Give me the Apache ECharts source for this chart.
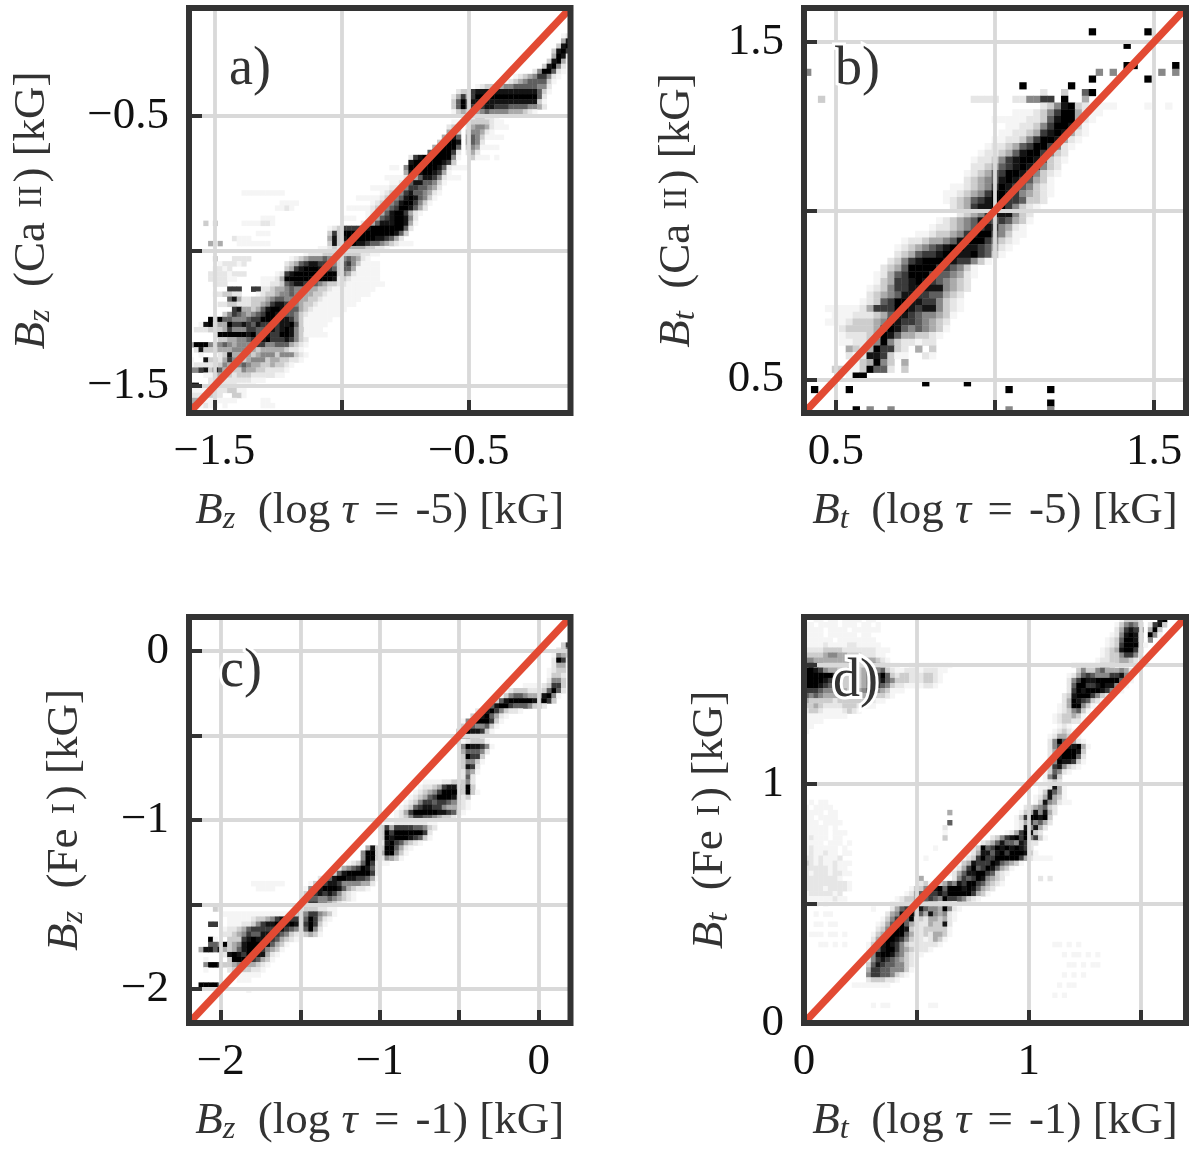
<!DOCTYPE html>
<html><head><meta charset="utf-8">
<style>html,body{margin:0;padding:0;background:#fff}#c{width:1200px;height:1151px}</style>
<script src="https://cdn.jsdelivr.net/npm/echarts@6/dist/echarts.min.js"></script>
</head><body><div id="c"></div>
<script>
// 2D histogram cells: [row from top, first column, shade digits 0-9]
const rowsA=[[23,65,"11"],[25,63,"1110"],[27,62,"111"],[29,61,"1101"],[31,55,"1111"],[33,54,"111"],[31,42,"11"],[33,41,"111"],[35,38,"111"],[37,35,"1111"],[39,33,"11111"],[41,32,"111"],[46,45,"11"],[50,37,"111"],[51,36,"1111"],[52,35,"11111"],[53,35,"11111"],[54,34,"1111111"],[55,32,"1111111"],[56,30,"11111111"],[57,29,"1111111"],[58,28,"1111111"],[59,27,"111111"],[60,26,"111111"],[61,25,"11111"],[62,25,"1111"],[63,24,"1111"],[64,25,"1111"],[5,78,"12"],[6,78,"48"],[7,77,"389"],[8,76,"3897"],[9,76,"4982"],[10,75,"38941"],[11,74,"38952"],[12,72,"2599621"],[13,68,"1234577521"],[14,66,"12345666631"],[15,60,"1233445566666552"],[16,56,"23378888888888888631"],[17,55,"24747999999999999962"],[18,55,"36968888888888888831"],[19,55,"36967778877766665542"],[20,55,"134344565555444321"],[21,58,"1233221"],[22,55,"11233333211"],[23,54,"23202455421"],[24,54,"4430355421"],[25,53,"4786046531"],[26,52,"3699804652"],[27,51,"47999603541"],[28,50,"68999720242"],[29,46,"278999999510031"],[30,46,"8999999873"],[31,45,"5999999862"],[32,45,"4888998741"],[33,44,"1234688752"],[34,42,"112468866531"],[35,41,"122357766542"],[36,40,"1233578665421"],[36,11,"111111111"],[37,39,"1234568986531"],[38,38,"1234568997531"],[38,19,"1111"],[39,38,"234567998642"],[39,18,"1121"],[40,37,"123468997421"],[41,37,"12467899852"],[41,15,"111"],[42,36,"224688899841"],[42,3,"3030"],[42,11,"1111221"],[43,29,"123777788999999962"],[44,29,"37399999999999863"],[44,14,"111"],[45,29,"4838999999887642"],[45,9,"2111"],[46,29,"3836898876654321"],[46,4,"4040"],[46,10,"1111111"],[47,27,"112323444433221"],[48,24,"1222333333332211"],[49,21,"12345556553565421"],[49,5,"3"],[49,9,"2222"],[50,20,"23467887765367531"],[50,6,"122212"],[51,20,"3478999887636641"],[51,5,"2212"],[52,18,"12789999999993542"],[52,4,"22221222"],[53,15,"11124999999999982321"],[53,4,"222211"],[54,15,"1122367887665433221"],[54,5,"222"],[55,15,"22344565554433211"],[55,8,"7770077"],[56,14,"1233455655443321"],[56,5,"223322"],[57,8,"684223334566555443321"],[58,6,"2233222334578876543321"],[59,9,"784434689986664321"],[60,7,"3576545679987665321"],[61,4,"959665556779999887531"],[62,2,"18934497787687777889631"],[63,1,"22233347555776678789853"],[64,6,"9999998966877998531"],[65,6,"3344556778977787532"],[66,0,"4999545654555677556664321"],[67,1,"28333444555443444443221"],[68,2,"10002384444345553555321"],[69,0,"100833247543455534433221"],[70,0,"1222223544565443343321"],[71,0,"557839643335443322221"],[72,3,"11343323332222211"],[73,4,"221222222111"],[74,0,"88002222221111"],[75,0,"111122223311"],[76,0,"222232200331"],[77,0,"4411111111"],[77,15,"11"],[78,0,"53121101"],[78,15,"111"]];
const rowsB=[[3,41,"9"],[3,49,"9"],[5,46,"9"],[8,46,"99"],[8,53,"9"],[9,0,"5"],[9,42,"505"],[9,51,"505"],[10,41,"9"],[10,49,"9"],[11,31,"9"],[11,38,"9"],[12,34,"20030069"],[13,2,"3"],[13,24,"22220022557709004"],[14,34,"23589321111"],[14,49,"1001"],[15,30,"1112357994211"],[16,27,"111112236899421"],[17,29,"112235799831"],[18,28,"1122347898421"],[19,27,"1122357998421"],[20,26,"1223467997521"],[21,25,"1223468997532"],[22,24,"12235789986321"],[23,24,"2234678987532"],[24,23,"12346799875321"],[25,23,"2345689876431"],[26,21,"112345798765321"],[27,20,"1123457998754321"],[28,20,"123467899776332"],[29,21,"2347889975321"],[30,22,"23457888532"],[31,19,"12345687676431"],[32,18,"12234567875421"],[33,16,"1123345789965311"],[34,14,"12234456899975321"],[35,13,"12345678998876421"],[36,13,"2346778998897631"],[37,12,"235789998877531"],[38,11,"23469999776531"],[39,10,"124679997665421"],[40,10,"13477898765432"],[41,9,"123577888885432"],[42,9,"23456887766432"],[43,8,"123679988775321"],[44,3,"11111247779987885321"],[45,4,"111222346887655431"],[46,3,"111233345987765432"],[47,5,"2333347986565431"],[48,5,"122234986443321"],[49,5,"11223595322122"],[50,6,"4324977320403"],[51,6,"2128873110021"],[52,7,"13495304"],[53,4,"3311"],[53,8,"3966203"],[54,6,"199"],[55,17,"9"],[55,23,"9"],[56,1,"9"],[56,6,"9"],[56,29,"9"],[56,35,"9"],[58,35,"9"],[59,7,"9"],[59,9,"5"],[59,12,"5"],[59,29,"5"],[59,35,"5"]];
const rowsC=[[5,78,"37"],[6,77,"235"],[7,76,"1543"],[8,76,"2972"],[9,76,"2441"],[10,75,"1233"],[11,75,"1332"],[12,75,"2553"],[13,70,"111123773"],[14,66,"1233322236962"],[15,65,"1356654458951"],[16,63,"13689999987973"],[17,62,"3689976665332"],[18,60,"2589753221"],[19,59,"36896421"],[20,57,"157999731"],[21,57,"37655631"],[22,56,"37988731"],[23,56,"244332"],[24,56,"3123331"],[25,57,"5988751"],[26,57,"466652"],[27,57,"39773"],[28,57,"35531"],[29,57,"3872"],[30,57,"2541"],[31,57,"262"],[32,49,"11112233352"],[33,48,"122347887393"],[34,47,"12345799993931"],[35,46,"1234679998723"],[36,45,"12357767765521"],[37,44,"123678877544421"],[38,43,"124799999887641"],[39,43,"12357766543321"],[40,40,"111222222211"],[41,40,"374777766532"],[42,40,"39799999972"],[43,40,"39899987631"],[44,40,"289764321"],[45,37,"4833996421"],[46,36,"5993499531"],[47,36,"599325431"],[48,33,"123697211"],[49,31,"245679862"],[50,30,"3689999972"],[51,27,"2368998877641"],[52,25,"13578875555442"],[52,13,"1111111"],[53,24,"15889998643221"],[53,14,"1111"],[54,24,"37787875321"],[55,24,"46655654321"],[56,23,"1477554321"],[57,5,"32"],[57,22,"113332211"],[58,7,"111111111111112345775431"],[59,8,"1111123345788773697421"],[60,4,"77"],[60,8,"111223578898898379731"],[61,7,"122346777778876536952"],[62,7,"223457668877653213431"],[63,4,"91"],[63,8,"333789888764321"],[64,4,"66593458999886431"],[65,2,"488684346899875431"],[66,7,"289879788421"],[67,3,"1"],[67,8,"3999776431"],[68,3,"59973345644321"],[69,3,"1"],[69,8,"23333221"],[70,9,"111111"],[71,10,"111"],[72,2,"99996"],[73,12,"1"]];
const rowsD=[[0,2,"1101101111011"],[1,0,"1101111011101101"],[2,0,"1111011110111111"],[3,0,"11110111111011"],[4,0,"111111011111111"],[5,0,"1111211112211111"],[6,0,"222233332222222111"],[7,0,"33334554433322211"],[8,0,"554444444433344321"],[9,0,"67543333343335543211"],[9,22,"111111111"],[10,0,"998754433333455563211222122211"],[11,0,"99999973333345679632332223321"],[12,0,"99998764333345678653332223321"],[13,0,"9998765433334567653221111221"],[14,0,"777655554334566543111"],[15,0,"6565444444454333321"],[16,0,"43333323333332211"],[17,0,"334322223332211"],[18,0,"233211112321"],[19,0,"111111111"],[20,0,"1111"],[21,0,"11"],[22,0,"1"],[0,66,"1333"],[0,74,"89"],[1,65,"13565302783"],[2,65,"2478770493"],[3,64,"12589840951"],[4,63,"1236998405"],[5,63,"123799951"],[6,62,"123489973"],[7,62,"123357752"],[8,61,"1223344321"],[9,56,"222222332"],[10,57,"353356444542"],[11,55,"12467655577851"],[12,55,"25798899999621"],[13,55,"2699778988531"],[14,55,"279899987531"],[15,54,"23899975321"],[16,54,"249876321"],[17,53,"12499531"],[18,53,"1235631"],[19,52,"1233431"],[20,52,"1233221"],[21,53,"121"],[22,52,"123211"],[23,51,"1244321"],[24,51,"25963421"],[25,51,"257588941"],[26,51,"24899983"],[27,51,"24899962"],[28,51,"25988731"],[29,51,"3785321"],[30,50,"136521"],[31,50,"1573"],[32,50,"1232"],[33,49,"112841"],[34,49,"138641"],[35,48,"1248431"],[36,48,"13854211"],[36,1,"1011"],[37,46,"2345632"],[37,0,"101111"],[38,30,"4"],[38,45,"13485842"],[38,0,"1111011"],[39,44,"13799893"],[39,0,"1101111"],[40,30,"6"],[40,44,"12475642"],[40,0,"11101111"],[41,29,"2"],[41,44,"1285842"],[41,0,"1111101"],[42,29,"1"],[42,42,"12479832"],[42,0,"111110111"],[43,29,"3"],[43,39,"235789795731"],[43,0,"12111011"],[44,37,"234686658722"],[44,0,"1111011101"],[45,27,"1"],[45,35,"2396798989872"],[45,0,"121111101"],[46,34,"124886897999831"],[46,0,"1211211011"],[47,25,"1"],[47,33,"1237977999997421111"],[47,0,"22121112"],[48,0,"3212112111"],[48,32,"13487779865431"],[49,31,"1247967986431"],[49,0,"222221211"],[50,30,"1246889976321"],[50,0,"2122212211"],[51,24,"4"],[51,31,"25767985432"],[51,49,"202"],[51,0,"22222221"],[52,24,"231234658799764321"],[52,0,"2222222221"],[53,22,"133568969998986432"],[53,0,"2222122221"],[54,21,"124697787999997431"],[54,0,"12222212"],[55,19,"123349676597765321"],[55,0,"111111211"],[56,18,"11233344332221"],[56,0,"11101"],[57,14,"1"],[57,18,"246796865549521"],[58,17,"245889564854521"],[58,2,"1011"],[59,16,"1357969332443421"],[60,15,"1246896432243382"],[60,2,"11011"],[61,15,"2358998322333331"],[62,14,"13479996422324431"],[62,1,"11101101"],[63,14,"2469987532212431"],[64,13,"1358987532222221"],[64,3,"110101"],[64,52,"110101"],[65,13,"13689975432221"],[66,13,"258998653211"],[66,54,"10110101"],[67,13,"25787654321"],[68,13,"36876655321"],[68,55,"1101011"],[69,13,"4776655531"],[70,13,"577665321"],[70,54,"10101"],[71,13,"2333221"],[72,10,"11111111"],[72,53,"1011"],[74,52,"101"],[76,14,"1011"],[76,26,"11"]];

const xTicksA=[-1.5,-1,-0.5], xLabelsA=[-1.5,-0.5], yTicksA=[-1.5,-1,-0.5], yLabelsA=[-1.5,-0.5];
const xTicksB=[0.5,1,1.5], xLabelsB=[0.5,1.5], yTicksB=[0.5,1,1.5], yLabelsB=[0.5,1.5];
const xTicksC=[-2,-1.5,-1,-0.5,0], xLabelsC=[-2,-1,0], yTicksC=[-2,-1.5,-1,-0.5,0], yLabelsC=[-2,-1,0];
const xTicksD=[0.5,1,1.5], xLabelsD=[0,1], yTicksD=[0.5,1,1.5], yLabelsD=[0,1];
const rangeA=[-1.6,-0.1], rangeB=[0.4,1.6], rangeC=[-2.2,0.2], rangeD=[0,1.7];

const xNameA="{i|B}{s|z}  (log {i|τ} {e|=} -5) [kG]", xNameB="{i|B}{s|t}  (log {i|τ} {e|=} -5) [kG]", xNameC="{i|B}{s|z}  (log {i|τ} {e|=} -1) [kG]", xNameD="{i|B}{s|t}  (log {i|τ} {e|=} -1) [kG]";
const yNameA="{i|B}{s|z}  (Ca {c|II}) [kG]", yNameB="{i|B}{s|t}  (Ca {c|II}) [kG]", yNameC="{i|B}{s|z}  (Fe {c|I}) [kG]", yNameD="{i|B}{s|t}  (Fe {c|I}) [kG]";

const SHADES=['#ffffff','#f5f5f5','#e6e6e6','#cdcdcd','#ababab','#888888','#5f5f5f','#3a3a3a','#141414','#000000'];
const FONT='"Liberation Serif", serif';
const panels=[
 {rows:rowsA,nc:80,nr:80,range:rangeA,xt:xTicksA,xl:xLabelsA,yt:yTicksA,yl:yLabelsA,xn:xNameA,yn:yNameA,left:189,top:8,w:381.5,h:405,ygap:129,tag:'a)',tx:224,ty:38},
 {rows:rowsB,nc:55,nr:60,range:rangeB,xt:xTicksB,xl:xLabelsB,yt:yTicksB,yl:yLabelsB,xn:xNameB,yn:yNameB,left:804,top:8,w:382,h:405,ygap:99,tag:'b)',tx:830,ty:38},
 {rows:rowsC,nc:80,nr:80,range:rangeC,xt:xTicksC,xl:xLabelsC,yt:yTicksC,yl:yLabelsC,xn:xNameC,yn:yNameC,left:189,top:617,w:381.5,h:406,ygap:96,tag:'c)',tx:215,ty:640},
 {rows:rowsD,nc:80,nr:80,range:rangeD,xt:xTicksD,xl:xLabelsD,yt:yTicksD,yl:yLabelsD,xn:xNameD,yn:yNameD,left:804,top:617,w:382,h:406,ygap:66,tag:'d)',tx:828,ty:650}
];
const fmt=v=>String(v).replace('-','\u2212');
const rich=(fs)=>({i:{fontFamily:FONT,fontStyle:'italic',fontSize:fs,color:'#333',lineHeight:56},
  s:{fontFamily:FONT,fontStyle:'italic',fontSize:fs*0.72,color:'#333',lineHeight:56,padding:[16,0,0,0]},
  c:{fontFamily:FONT,fontSize:fs*0.74,color:'#333',lineHeight:56,padding:[0,3,0,3]},
  e:{fontFamily:FONT,fontSize:fs,color:'#333',lineHeight:56,padding:[0,5,0,5]}});
const opt={animation:false,backgroundColor:'#fff',grid:[],xAxis:[],yAxis:[],series:[],title:[]};
panels.forEach((p,k)=>{
  opt.grid.push({left:p.left,top:p.top,width:p.w,height:p.h,show:true,borderColor:'#333',borderWidth:6,backgroundColor:'transparent',z:20});
  const mk=(ticks,labels,name,gap,rot,m)=>({gridIndex:k,type:'value',min:p.range[0],max:p.range[1],z:8,
    axisLine:{show:false,onZero:false},
    axisTick:{show:true,inside:true,length:13,customValues:ticks,lineStyle:{color:'#333',width:4}},
    splitLine:{show:true,customValues:ticks,lineStyle:{color:'#d9d9d9',width:3.8}},
    axisLabel:{show:true,customValues:labels,formatter:fmt,margin:m,fontFamily:FONT,fontSize:45,color:'#111'},
    name:name,nameLocation:'middle',nameGap:gap,nameRotate:rot,nameMoveOverlap:false,
    nameTextStyle:{fontFamily:FONT,fontSize:45,color:'#333',rich:rich(45)}});
  opt.xAxis.push(mk(p.xt,p.xl,p.xn,70,0,17));
  opt.yAxis.push(mk(p.yt,p.yl,p.yn,p.ygap,90,20));
  const [lo,hi]=p.range, bw=(hi-lo)/p.nc, bh=(hi-lo)/p.nr, cells=[];
  p.rows.forEach(([r,c,s])=>{[...s].forEach((d,i)=>{if(d!=='0')cells.push([lo+(c+i)*bw,hi-(r+1)*bh,+d]);});});
  opt.series.push({type:'custom',xAxisIndex:k,yAxisIndex:k,z:2,silent:true,clip:true,data:cells,encode:{x:0,y:1},
    renderItem:(ctx,api)=>{const a=api.coord([api.value(0),api.value(1)]),sz=api.size([bw,bh]);
      return {type:'rect',shape:{x:a[0],y:a[1]-sz[1],width:sz[0]+0.4,height:sz[1]+0.4},style:{fill:SHADES[api.value(2)]}};}});
  opt.series.push({type:'line',xAxisIndex:k,yAxisIndex:k,z:15,silent:true,showSymbol:false,symbol:'none',clip:true,
    data:[[lo,lo],[hi,hi]],lineStyle:{color:'#E24A33',width:7.5,cap:'butt'}});
  opt.title.push({text:p.tag,left:p.tx,top:p.ty,z:18,textStyle:{fontFamily:FONT,fontWeight:'normal',fontSize:54,color:'#333',textBorderColor:'#fff',textBorderWidth:6}});
});
const chart=echarts.init(document.getElementById('c'),null,{renderer:'canvas',width:1200,height:1151});
chart.setOption(opt);
</script></body></html>
